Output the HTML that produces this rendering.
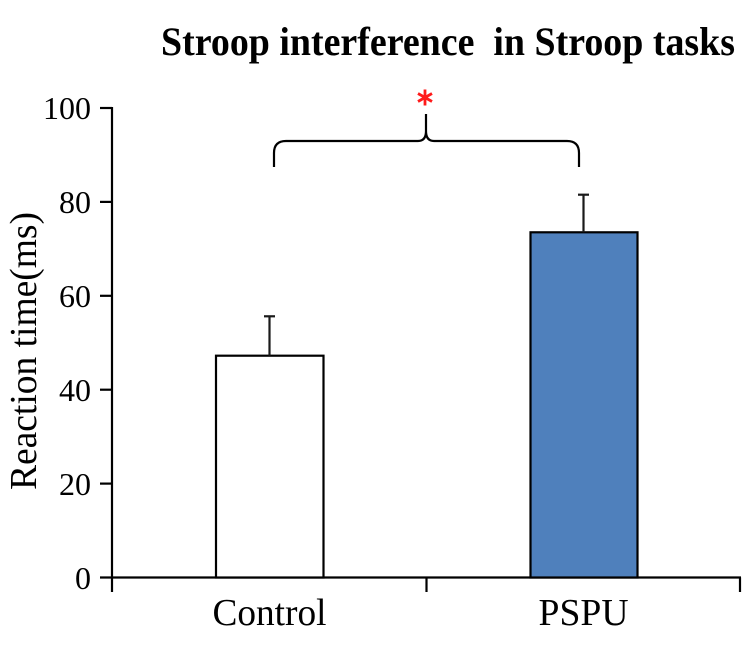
<!DOCTYPE html>
<html>
<head>
<meta charset="utf-8">
<style>
  html, body { margin:0; padding:0; background:#fff; }
  svg { display:block; }
</style>
</head>
<body>
<svg width="742" height="664" viewBox="0 0 742 664" xmlns="http://www.w3.org/2000/svg">
  <rect width="742" height="664" fill="#fff"/>
  <!-- Title -->
  <text x="161" y="55" xml:space="preserve" style="white-space:pre" font-family="Liberation Serif, serif" font-weight="bold" font-size="40" textLength="574" lengthAdjust="spacingAndGlyphs" fill="#000">Stroop interference  in Stroop tasks</text>

  <!-- Y label -->
  <text transform="translate(36,351) rotate(-90)" text-anchor="middle" font-family="Liberation Serif, serif" font-size="38" textLength="278" lengthAdjust="spacingAndGlyphs" fill="#000">Reaction time(ms)</text>

  <!-- Axes -->
  <g stroke="#000" stroke-width="2.2" fill="none">
    <line x1="112" y1="107" x2="112" y2="592"/>
    <line x1="100" y1="577.5" x2="741" y2="577.5"/>
    <line x1="100" y1="108" x2="112" y2="108"/>
    <line x1="100" y1="201.9" x2="112" y2="201.9"/>
    <line x1="100" y1="295.8" x2="112" y2="295.8"/>
    <line x1="100" y1="389.7" x2="112" y2="389.7"/>
    <line x1="100" y1="483.6" x2="112" y2="483.6"/>
    <line x1="426.5" y1="577.5" x2="426.5" y2="592"/>
    <line x1="740" y1="577.5" x2="740" y2="592"/>
  </g>

  <!-- Tick labels -->
  <g font-family="Liberation Serif, serif" font-size="32" text-anchor="end" fill="#000">
    <text x="91" y="119">100</text>
    <text x="91" y="213">80</text>
    <text x="91" y="307">60</text>
    <text x="91" y="401">40</text>
    <text x="91" y="495">20</text>
    <text x="91" y="589">0</text>
  </g>

  <!-- Bars -->
  <rect x="216" y="355.7" width="107.5" height="221.8" fill="#fff" stroke="#000" stroke-width="2.2"/>
  <rect x="530.5" y="232.3" width="107" height="345.2" fill="#4f80bc" stroke="#000" stroke-width="2.2"/>

  <!-- Error bars -->
  <g stroke="#1a1a1a" stroke-width="2.2">
    <line x1="269.5" y1="355.7" x2="269.5" y2="316.3"/>
    <line x1="264" y1="316.3" x2="275" y2="316.3"/>
    <line x1="583.5" y1="232.3" x2="583.5" y2="194.7"/>
    <line x1="578" y1="194.7" x2="589" y2="194.7"/>
  </g>

  <!-- Brace -->
  <path d="M274,167 L274,153 Q274,141 286,141 L418,141 Q426,141 426,131 L426,114 L426,131 Q426,141 434,141 L567,141 Q579,141 579,153 L579,167" fill="none" stroke="#000" stroke-width="2.2"/>

  <!-- Red asterisk -->
  <g stroke="#ff1a1a" stroke-width="2.8" stroke-linecap="butt">
    <line x1="425" y1="89.5" x2="425" y2="105.5"/>
    <line x1="418" y1="93.5" x2="432" y2="101.5"/>
    <line x1="432" y1="93.5" x2="418" y2="101.5"/>
  </g>

  <!-- Category labels -->
  <g font-family="Liberation Serif, serif" font-size="38" fill="#000">
    <text x="212.5" y="625" textLength="114" lengthAdjust="spacingAndGlyphs">Control</text>
    <text x="538.5" y="625" textLength="90" lengthAdjust="spacingAndGlyphs">PSPU</text>
  </g>
</svg>
</body>
</html>
